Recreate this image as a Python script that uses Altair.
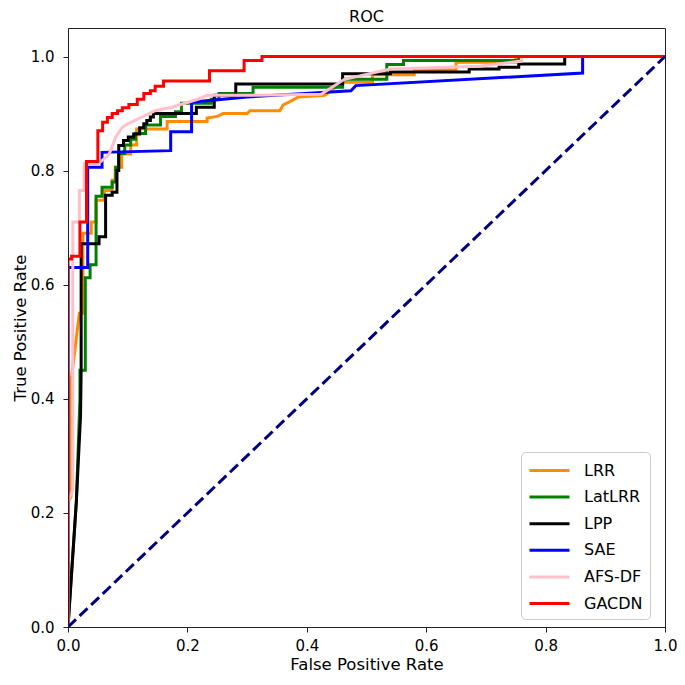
import altair as alt
import pandas as pd

model_names = ["LRR", "LatLRR", "LPP", "SAE", "AFS-DF", "GACDN"]
model_colors = ["#ff8c00", "#008000", "#000000", "#0000ff", "#ffc0cb", "#ff0000"]

# (false positive rate, true positive rate) corner points
LRR = [(0, 0), (0, 0.22), (0.005, 0.228), (0.005, 0.43), (0.019, 0.55), (0.025, 0.55),
       (0.025, 0.69), (0.039, 0.69), (0.039, 0.71), (0.047, 0.71), (0.047, 0.748),
       (0.061, 0.748), (0.061, 0.765), (0.074, 0.765), (0.074, 0.783), (0.079, 0.783),
       (0.079, 0.806), (0.09, 0.806), (0.09, 0.829), (0.105, 0.829), (0.105, 0.845),
       (0.115, 0.845), (0.115, 0.873), (0.166, 0.873), (0.166, 0.886), (0.233, 0.886),
       (0.233, 0.892), (0.25, 0.895), (0.26, 0.9), (0.30, 0.9), (0.305, 0.905),
       (0.355, 0.905), (0.36, 0.915), (0.37, 0.92), (0.386, 0.929), (0.43, 0.932),
       (0.46, 0.955), (0.51, 0.955), (0.51, 0.968), (0.58, 0.968), (0.58, 0.977),
       (0.65, 0.977), (0.65, 0.99), (0.75, 0.99), (0.75, 1.0), (1.0, 1.0)]

LatLRR = [(0, 0), (0.014, 0.22), (0.02, 0.40), (0.02, 0.45), (0.029, 0.45), (0.029, 0.612),
          (0.037, 0.612), (0.037, 0.635), (0.047, 0.635), (0.047, 0.755), (0.057, 0.755),
          (0.057, 0.771), (0.074, 0.771), (0.074, 0.78), (0.08, 0.78), (0.08, 0.806),
          (0.085, 0.806), (0.085, 0.83), (0.095, 0.83), (0.095, 0.845), (0.105, 0.845),
          (0.105, 0.855), (0.113, 0.855), (0.113, 0.865), (0.13, 0.865), (0.13, 0.88),
          (0.155, 0.88), (0.155, 0.895), (0.18, 0.895), (0.18, 0.903), (0.19, 0.903),
          (0.19, 0.918), (0.24, 0.918), (0.24, 0.925), (0.253, 0.925), (0.253, 0.935),
          (0.31, 0.935), (0.31, 0.946), (0.46, 0.946), (0.46, 0.96), (0.534, 0.96),
          (0.534, 0.986), (0.562, 0.986), (0.562, 0.993), (0.755, 0.993), (0.755, 1.0),
          (1.0, 1.0)]

LPP = [(0, 0), (0.014, 0.22), (0.021, 0.37), (0.022, 0.45), (0.022, 0.672), (0.052, 0.672),
       (0.052, 0.684), (0.063, 0.684), (0.063, 0.757), (0.074, 0.757), (0.074, 0.762),
       (0.082, 0.762), (0.082, 0.80), (0.085, 0.80), (0.085, 0.844), (0.093, 0.844),
       (0.093, 0.853), (0.101, 0.853), (0.101, 0.859), (0.110, 0.859), (0.110, 0.864),
       (0.12, 0.864), (0.12, 0.875), (0.127, 0.875), (0.127, 0.882), (0.132, 0.882),
       (0.132, 0.888), (0.138, 0.888), (0.138, 0.894), (0.143, 0.894), (0.143, 0.9),
       (0.215, 0.9), (0.215, 0.911), (0.245, 0.911), (0.245, 0.932), (0.281, 0.932),
       (0.281, 0.952), (0.46, 0.952), (0.46, 0.97), (0.54, 0.97), (0.54, 0.973),
       (0.672, 0.973), (0.672, 0.978), (0.722, 0.978), (0.722, 0.981), (0.755, 0.981),
       (0.755, 0.987), (0.832, 0.987), (0.832, 0.993), (0.832, 1.0), (1.0, 1.0)]

SAE = [(0, 0), (0, 0.63), (0.033, 0.63), (0.033, 0.806), (0.057, 0.806), (0.057, 0.832),
       (0.172, 0.835), (0.172, 0.868), (0.207, 0.868), (0.207, 0.92), (0.30, 0.929),
       (0.474, 0.94), (0.482, 0.949), (0.862, 0.971), (0.862, 1.0), (1.0, 1.0)]

AFS_DF = [(0, 0), (0, 0.22), (0.008, 0.24), (0.008, 0.71), (0.019, 0.71), (0.019, 0.765),
          (0.027, 0.765), (0.027, 0.812), (0.05, 0.812), (0.06, 0.82), (0.069, 0.829),
          (0.08, 0.859), (0.091, 0.876), (0.1, 0.882), (0.124, 0.894), (0.146, 0.905),
          (0.174, 0.911), (0.22, 0.926), (0.233, 0.932), (0.298, 0.932), (0.424, 0.934),
          (0.463, 0.96), (0.54, 0.978), (0.69, 0.983), (0.727, 0.988), (0.76, 0.992),
          (0.76, 1.0), (1.0, 1.0)]

GACDN = [(0, 0), (0, 0.645), (0.006, 0.645), (0.006, 0.65), (0.02, 0.65), (0.02, 0.71),
         (0.031, 0.71), (0.031, 0.816), (0.05, 0.816), (0.05, 0.87), (0.058, 0.87),
         (0.058, 0.885), (0.066, 0.885), (0.066, 0.893), (0.074, 0.893), (0.074, 0.9),
         (0.083, 0.9), (0.083, 0.905), (0.091, 0.905), (0.091, 0.91), (0.102, 0.91),
         (0.102, 0.916), (0.116, 0.916), (0.116, 0.925), (0.127, 0.925), (0.127, 0.935),
         (0.138, 0.935), (0.138, 0.94), (0.146, 0.94), (0.146, 0.948), (0.16, 0.948),
         (0.16, 0.957), (0.237, 0.957), (0.237, 0.975), (0.295, 0.975), (0.295, 0.993),
         (0.325, 0.993), (0.325, 1.0), (1.0, 1.0)]

CHANCE = [(0, 0), (1, 1)]

tick_values = [0.0, 0.2, 0.4, 0.6, 0.8, 1.0]

series = [LRR, LatLRR, LPP, SAE, AFS_DF, GACDN]
rows = []
for name, pts in zip(model_names, series):
    for i, (fx, ty) in enumerate(pts):
        rows.append({"model": name, "fpr": fx, "tpr": ty, "idx": i})
df = pd.DataFrame(rows)
diag_df = pd.DataFrame({"fpr": [p[0] for p in CHANCE], "tpr": [p[1] for p in CHANCE],
                        "idx": list(range(len(CHANCE)))})

FONT = "DejaVu Sans"

x_enc = alt.X("fpr:Q", scale=alt.Scale(domain=[0, 1], nice=False, zero=False),
              axis=alt.Axis(values=tick_values, format=".1f", title="False Positive Rate",
                            grid=False, tickSize=5, labelPadding=6, titlePadding=3,
                            labelFlush=False, zindex=1))
y_enc = alt.Y("tpr:Q", scale=alt.Scale(domain=[0, 1.05], nice=False, zero=False),
              axis=alt.Axis(values=tick_values, format=".1f", title="True Positive Rate",
                            grid=False, tickSize=5, labelPadding=9, titlePadding=2,
                            labelFlush=False, zindex=1))

legend = alt.Legend(title=None, orient="none", legendX=453, legendY=424,
                    symbolType="M-2,0H2", symbolSize=400, symbolStrokeWidth=3,
                    labelFontSize=16, labelFont=FONT, labelColor="black",
                    padding=7, symbolOffset=10, labelOffset=23, rowPadding=6.6,
                    strokeColor="#cccccc", fillColor="white", cornerRadius=4)

color_enc = alt.Color("model:N", scale=alt.Scale(domain=model_names, range=model_colors),
                      legend=legend)

layers = []
for name in model_names:
    layers.append(
        alt.Chart(df)
        .transform_filter(alt.datum.model == name)
        .mark_line(strokeWidth=3, clip=True)
        .encode(x=x_enc, y=y_enc, color=color_enc, order="idx:Q")
    )

diag = alt.Chart(diag_df).mark_line(strokeWidth=3, color="#000080", strokeDash=[11, 5],
                                    clip=True).encode(x=x_enc, y=y_enc, order="idx:Q")

chart = (
    alt.layer(*layers, diag)
    .properties(width=597, height=599,
                title=alt.TitleParams("ROC", fontSize=16, font=FONT, fontWeight="normal",
                                      color="black", offset=3, anchor="middle"),
                autosize=alt.AutoSizeParams(type="none"),
                padding={"left": 60, "top": 20, "right": 12, "bottom": 45})
    .configure_view(stroke="#222222", strokeWidth=1)
    .configure_axis(labelFont=FONT, labelFontSize=15, labelColor="black",
                    titleFont=FONT, titleFontSize=16.5, titleFontWeight="normal",
                    titleColor="black", domainColor="#222222", tickColor="#222222",
                    domainWidth=1, tickWidth=1)
)

chart.save("out.html", embed_options={"renderer": "svg", "actions": False})
